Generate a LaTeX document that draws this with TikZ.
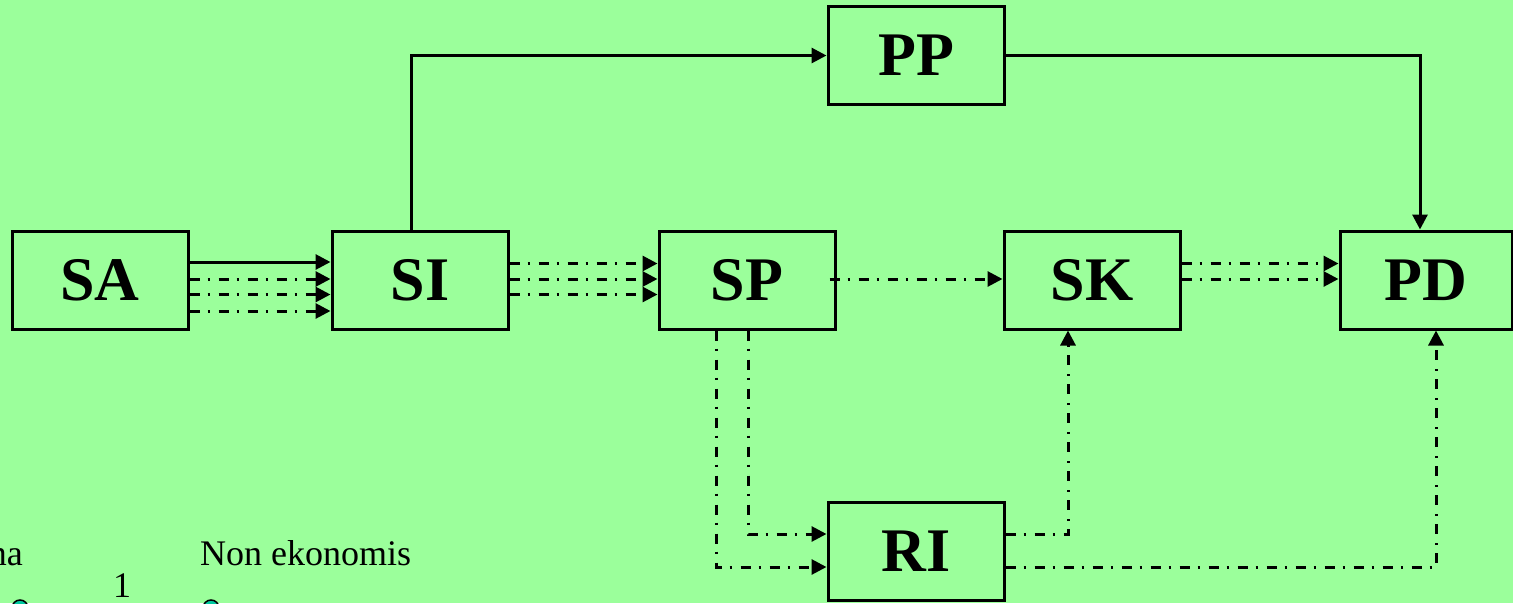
\documentclass[tikz,border=0pt]{standalone}
\usepackage{fontspec}
\setmainfont{Liberation Serif}
\usetikzlibrary{arrows.meta,calc}
\definecolor{bg}{RGB}{155,255,155}
\definecolor{dotc}{RGB}{0,200,160}
\begin{document}
\begin{tikzpicture}[x=1pt,y=-1pt,
 box/.style={draw=black,line width=3pt,minimum width=176pt,minimum height=98pt,inner sep=0pt,font=\fontsize{62}{62}\selectfont\bfseries},
 conn/.style={line width=3pt,-{Triangle[length=15pt,width=15pt]}},
 dd/.style={conn,dash pattern=on 10pt off 8pt on 2pt off 9pt},
 lbl/.style={font=\fontsize{36}{36}\selectfont,inner sep=0pt},
 dotn/.style={fill=dotc,draw=black,line width=1.5pt}]
\clip (0,0) rectangle (1513,603);
\fill[bg] (0,0) rectangle (1513,603);
\node[box] (SA) at (100,280) {SA};
\node[box] (SI) at (420,280) {SI};
\node[box] (SP) at (747,280) {SP};
\node[box] (SK) at (1092,280) {SK};
\node[box,minimum width=172pt] (PD) at (1426,280) {PD};
\node[box] (PP) at (916,55.5) {PP};
\node[box] (RI) at (916,551.5) {RI};
% SA -> SI
\draw[conn] ($(SA.east)+(0,-18)$) -- ($(SI.west)+(0,-18)$);
\draw[dd] ($(SA.east)+(0,-1)$) -- ($(SI.west)+(0,-1)$);
\draw[dd] ($(SA.east)+(0,14.5)$) -- ($(SI.west)+(0,14.5)$);
\draw[dd] ($(SA.east)+(0,31)$) -- ($(SI.west)+(0,31)$);
% SI -> SP
\draw[dd] ($(SI.east)+(0,-16.5)$) -- ($(SP.west)+(0,-16.5)$);
\draw[dd] ($(SI.east)+(0,-1)$) -- ($(SP.west)+(0,-1)$);
\draw[dd] ($(SI.east)+(0,14.5)$) -- ($(SP.west)+(0,14.5)$);
% SP -> SK
\draw[dd] ($(SP.east)+(-7,-1)$) -- ($(SK.west)+(0,-1)$);
% SK -> PD
\draw[dd] ($(SK.east)+(0,-16.5)$) -- ($(PD.west)+(0,-16.5)$);
\draw[dd] ($(SK.east)+(0,-1)$) -- ($(PD.west)+(0,-1)$);
% SI -> PP -> PD
\draw[conn] ($(SI.north)+(-9,0)$) |- (PP.west);
\draw[conn] (PP.east) -| ($(PD.north)+(-6,0)$);
% SP -> RI
\draw[dd] ($(SP.south)+(-31,0)$) |- ($(RI.west)+(0,15.5)$);
\draw[dd] ($(SP.south)+(1,0)$) |- ($(RI.west)+(0,-17.5)$);
% RI -> SK, RI -> PD
\draw[dd] ($(RI.east)+(0,-17.5)$) -| ($(SK.south)+(-24,0)$);
\draw[dd] ($(RI.east)+(0,15.5)$) -| ($(PD.south)+(10,0)$);
% bottom-left fragments
\node[lbl,anchor=base east] (na) at (23,565) {na};
\node[lbl,anchor=base west] (ne) at (200,565) {Non ekonomis};
\node[lbl,anchor=base west] (one) at (113,597) {1};
\filldraw[dotn] (20,608) circle[radius=8pt];
\filldraw[dotn] (211,608) circle[radius=8pt];
\end{tikzpicture}
\end{document}
